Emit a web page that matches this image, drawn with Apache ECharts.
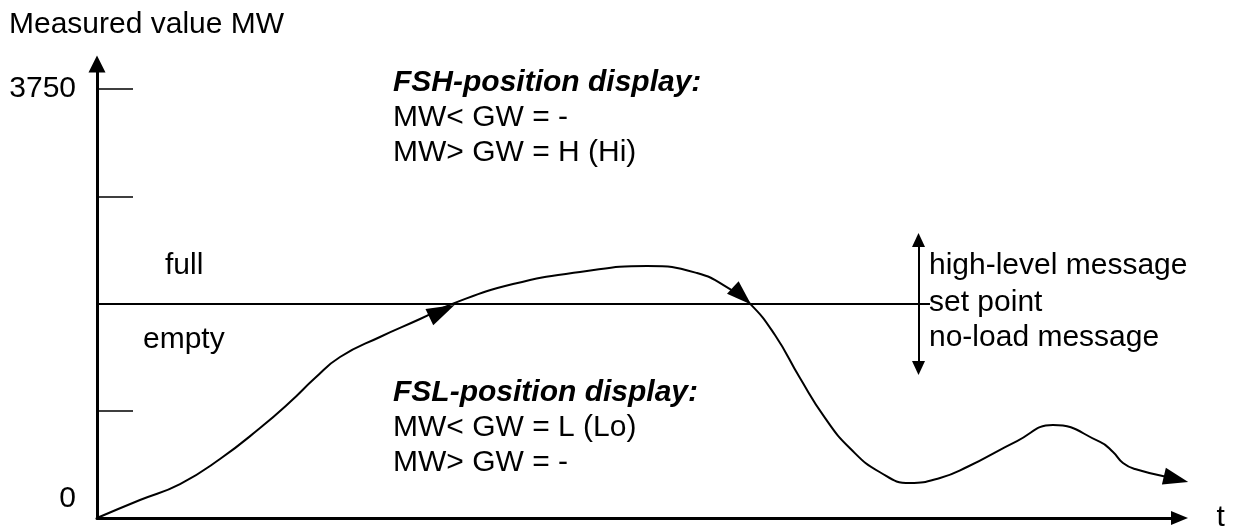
<!DOCTYPE html>
<html>
<head>
<meta charset="utf-8">
<script src="https://cdn.jsdelivr.net/npm/echarts@6/dist/echarts.min.js"></script>
<style>
html,body{margin:0;padding:0;background:#fff;}
#chart{width:1234px;height:530px;}
</style>
</head>
<body>
<div id="chart"></div>
<script>
// ---- data ----
const T  = [0, 3.97, 7.67, 11.36, 15.06, 17.83, 20.14, 22.45, 26.14, 29.84, 32.88, 38.43, 44.62, 50.81, 55.43,
            58.48, 60.32, 62.63, 64.94, 67.25, 69.56, 72.33, 75.1, 77.88, 80.37, 84.99, 88.31, 92.66, 93.86,
            94.78, 95.89, 98.85];
const MW = [0, 157, 297, 516, 787, 1014, 1224, 1408, 1583, 1740, 1875, 2046, 2151, 2204, 2142,
            2002, 1875, 1600, 1224, 875, 610, 400, 306, 350, 446, 673, 813, 665, 577,
            481, 428, 359];
const ARROW_T  = [31.87, 59.58, 99.68];
const ARROW_MW = [1810, 1941, 341];
const Y_LABELS = [0, 3750];
const Y_TICKS  = [937.5, 1875, 2812.5, 3750];
const SET_POINT = 1875;
const SET_LINE_END_T = 76.95;
const BAND_T = 75.89;
const BAND_MW = [1312, 2431];
const Y_MAX = 3970;
const T_MAX = 100;

const FONT = '"Liberation Sans", Arial, sans-serif';
const chart = echarts.init(document.getElementById('chart'));

function txt(text, x, y, bold) {
  return {
    type: 'text', x: x, y: y, silent: true,
    style: {
      text: text, fill: '#000', fontSize: 30, fontFamily: FONT,
      fontWeight: bold ? 'bold' : 'normal', fontStyle: bold ? 'italic' : 'normal',
      align: 'left', verticalAlign: 'middle'
    }
  };
}

const arrowRot = [-64.4, -133, -103.4];
const arrowSize = [[18, 28], [17, 25], [17, 25]];

chart.setOption({
  animation: false,
  backgroundColor: '#fff',
  title: {
    text: 'Measured value MW', left: 4, top: 5,
    textStyle: { fontSize: 30, fontWeight: 'normal', color: '#000', fontFamily: FONT }
  },
  grid: { left: 97, right: 54.5, top: 64, bottom: 12, containLabel: false, outerBoundsMode: 'none' },
  xAxis: {
    type: 'value', min: 0, max: T_MAX,
    name: 't', nameLocation: 'end', nameGap: 37,
    nameTextStyle: { fontSize: 30, color: '#000', fontFamily: FONT, verticalAlign: 'middle', align: 'left' },
    axisLine: { show: true, lineStyle: { color: '#000', width: 3 }, symbol: ['none', 'triangle'], symbolSize: [14, 17] },
    axisTick: { show: false }, axisLabel: { show: false }, splitLine: { show: false }
  },
  yAxis: {
    type: 'value', min: 0, max: Y_MAX,
    axisLine: { show: true, lineStyle: { color: '#000', width: 3 }, symbol: ['none', 'triangle'], symbolSize: [17, 17] },
    axisTick: { show: true, inside: true, length: 36, customValues: Y_TICKS, lineStyle: { color: '#000', width: 1.5 } },
    axisLabel: {
      show: true, customValues: Y_LABELS, margin: 21, color: '#000', fontSize: 30, fontFamily: FONT,
      formatter: function (v) { return v === 0 ? '{z|0}' : '{n|' + v + '}'; },
      rich: {
        z: { fontSize: 30, fontFamily: FONT, color: '#000', padding: [0, 0, 38, 0] },
        n: { fontSize: 30, fontFamily: FONT, color: '#000' }
      }
    },
    splitLine: { show: false }
  },
  series: [
    {
      type: 'line', data: T.map((t, i) => [t, MW[i]]), smooth: 0.5,
      showSymbol: false, symbol: 'none', clip: false, silent: true,
      lineStyle: { color: '#000', width: 2 },
      markLine: {
        silent: true, animation: false, symbol: ['none', 'none'],
        label: { show: false },
        lineStyle: { color: '#000', width: 2, type: 'solid' },
        emphasis: { disabled: true },
        data: [
          [{ coord: [0, SET_POINT] }, { coord: [SET_LINE_END_T, SET_POINT] }],
          [{ coord: [BAND_T, BAND_MW[0]], symbol: 'triangle', symbolSize: [13, 14] },
           { coord: [BAND_T, BAND_MW[1]], symbol: 'triangle', symbolSize: [13, 14] }]
        ]
      }
    },
    {
      type: 'scatter', clip: false, silent: true, z: 5,
      data: ARROW_T.map((t, i) => ({ value: [t, ARROW_MW[i]], symbolRotate: arrowRot[i], symbolSize: arrowSize[i] })),
      symbol: 'triangle',
      itemStyle: { color: '#000', opacity: 1 }
    }
  ],
  graphic: [
    txt('FSH-position display:', 393, 83, true),
    txt('MW< GW = -', 393, 118),
    txt('MW> GW = H (Hi)', 393, 153),
    txt('FSL-position display:', 393, 393, true),
    txt('MW< GW = L (Lo)', 393, 428),
    txt('MW> GW = -', 393, 463),
    txt('full', 165, 266),
    txt('empty', 143, 340),
    txt('high-level message', 929, 266),
    txt('set point', 929, 303),
    txt('no-load message', 929, 338)
  ]
});
</script>
</body>
</html>
